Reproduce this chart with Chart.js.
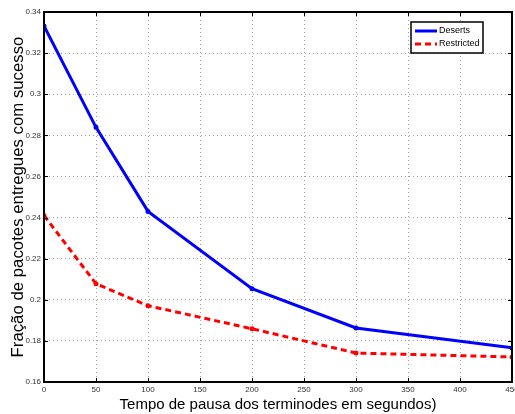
<!DOCTYPE html>
<html>
<head>
<meta charset="utf-8">
<script src="https://cdn.jsdelivr.net/npm/chart.js"></script>
<style>
  html, body { margin: 0; padding: 0; background: #fff; overflow: hidden; }
  #wrap { width: 530px; height: 414px; }
</style>
</head>
<body>
<div id="wrap"><canvas id="chart" width="530" height="414"></canvas></div>
<script>
// pause time (s) and delivery fraction per protocol
const pauseTimes = [0, 50, 100, 200, 300, 450];
const deserts = [0.3332, 0.2839, 0.2430, 0.2054, 0.1863, 0.1766];
const restricted = [0.2410, 0.2078, 0.1971, 0.1859, 0.1741, 0.1722];
const seriesNames = ['Deserts', 'Restricted'];
const xTicks = [0, 50, 100, 150, 200, 250, 300, 350, 400, 450];
const yTicks = [0.16, 0.18, 0.2, 0.22, 0.24, 0.26, 0.28, 0.3, 0.32, 0.34];

const toPoints = vals => pauseTimes.map((x, i) => ({ x: x, y: vals[i] }));

// black box round the axes, inward tick marks, legend inside top right
const matlabFrame = {
  id: 'matlabFrame',
  afterDatasetsDraw(chart) {
    const { ctx, chartArea: a, scales } = chart;
    ctx.save();
    ctx.strokeStyle = '#000';
    ctx.lineWidth = 1;
    ctx.beginPath();
    scales.x.ticks.forEach(t => {
      const px = Math.round(scales.x.getPixelForValue(t.value)) + 0.5;
      ctx.moveTo(px, a.bottom); ctx.lineTo(px, a.bottom - 4);
      ctx.moveTo(px, a.top); ctx.lineTo(px, a.top + 4);
    });
    scales.y.ticks.forEach(t => {
      const py = Math.round(scales.y.getPixelForValue(t.value)) + 0.5;
      ctx.moveTo(a.left, py); ctx.lineTo(a.left + 4, py);
      ctx.moveTo(a.right, py); ctx.lineTo(a.right - 4, py);
    });
    ctx.stroke();
    ctx.lineWidth = 2;
    ctx.strokeRect(Math.round(a.left), Math.round(a.top), Math.round(a.right - a.left), Math.round(a.bottom - a.top));

    // legend
    const bx = 411, by = 22, bw = 72, bh = 31;
    ctx.fillStyle = '#fff';
    ctx.fillRect(bx, by, bw, bh);
    ctx.lineWidth = 1.5;
    ctx.strokeStyle = '#000';
    ctx.strokeRect(bx, by, bw, bh);
    ctx.font = '9px "Liberation Sans", Arial, sans-serif';
    ctx.textBaseline = 'middle';
    chart.data.datasets.forEach((ds, i) => {
      const ly = by + 9 + i * 13;
      ctx.beginPath();
      ctx.strokeStyle = ds.borderColor;
      ctx.lineWidth = ds.borderWidth;
      ctx.setLineDash(ds.borderDash || []);
      ctx.moveTo(bx + 4, ly); ctx.lineTo(bx + 26, ly);
      ctx.stroke();
      ctx.setLineDash([]);
      ctx.fillStyle = '#000';
      ctx.fillText(ds.label, bx + 28, ly);
    });
    ctx.restore();
  }
};

new Chart(document.getElementById('chart'), {
  type: 'line',
  data: {
    datasets: [
      {
        label: seriesNames[0],
        data: toPoints(deserts),
        borderColor: '#0000ff',
        backgroundColor: '#0000ff',
        borderWidth: 3,
        pointRadius: 1,
        pointHoverRadius: 1,
        tension: 0
      },
      {
        label: seriesNames[1],
        data: toPoints(restricted),
        borderColor: '#ff0000',
        backgroundColor: '#ff0000',
        borderWidth: 3,
        borderDash: [6, 4],
        pointRadius: 1,
        pointHoverRadius: 1,
        tension: 0
      }
    ]
  },
  options: {
    responsive: false,
    animation: false,
    layout: { padding: { top: 12, right: 18, left: 0, bottom: 0 } },
    plugins: { legend: { display: false }, tooltip: { enabled: false } },
    scales: {
      x: {
        type: 'linear',
        min: 0,
        max: 450,
        afterBuildTicks: s => { s.ticks = xTicks.map(v => ({ value: v })); },
        ticks: {
          color: '#333',
          font: { family: '"Liberation Sans", Arial, sans-serif', size: 8 },
          padding: 3,
          maxRotation: 0
        },
        grid: { color: '#a0a0a0', drawTicks: false, lineWidth: 1 },
        border: { display: true, color: '#000', width: 1, dash: [1, 3] },
        title: {
          display: true,
          text: 'Tempo de pausa dos terminodes em segundos)',
          color: '#000',
          font: { family: '"Liberation Sans", Arial, sans-serif', size: 15 },
          padding: { top: 0, bottom: 0 }
        },
        afterFit: s => { s.height = 32; }
      },
      y: {
        type: 'linear',
        min: 0.16,
        max: 0.34,
        afterBuildTicks: s => { s.ticks = yTicks.map(v => ({ value: v })); },
        ticks: {
          color: '#333',
          font: { family: '"Liberation Sans", Arial, sans-serif', size: 8 },
          padding: 3,
          callback: v => String(Math.round(v * 100) / 100)
        },
        grid: { color: '#a0a0a0', drawTicks: false, lineWidth: 1 },
        border: { display: true, color: '#000', width: 1, dash: [1, 3] },
        title: {
          display: true,
          text: 'Fração de pacotes entregues com sucesso',
          color: '#000',
          font: { family: '"Liberation Sans", Arial, sans-serif', size: 16.8 },
          padding: { top: 8, bottom: 0 }
        },
        afterFit: s => { s.width = 44; }
      }
    }
  },
  plugins: [matlabFrame]
});
</script>
</body>
</html>
